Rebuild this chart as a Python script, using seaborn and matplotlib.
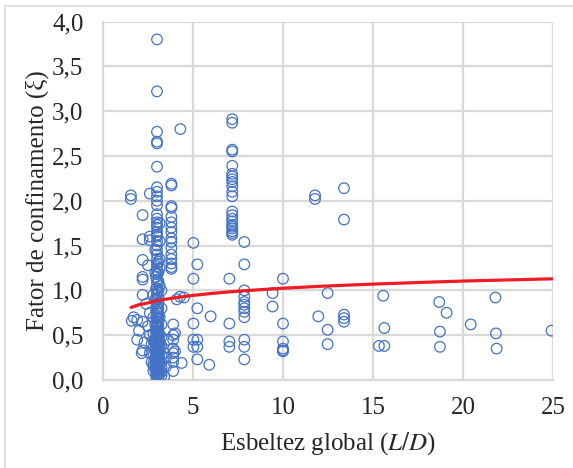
import matplotlib
matplotlib.use("Agg")
import matplotlib.pyplot as plt
import seaborn as sns
import pandas as pd
from matplotlib.ticker import MultipleLocator, FuncFormatter
from matplotlib.lines import Line2D

# ---- Data ----
left_x = [1.55, 1.55, 1.9, 2.2, 1.9, 2.2, 2.15, 2.0, 2.3, 1.6, 1.7,
          2.2, 2.2, 2.2, 2.2, 2.2, 2.2, 2.6, 2.6, 2.6, 2.5, 2.4,
          2.6, 2.5, 2.6, 2.7, 2.6, 2.7, 2.8]
left_y = [2.06, 2.02, 0.67, 0.65, 0.45, 0.33, 0.30, 0.55, 0.42, 0.66, 0.70,
          1.84, 1.57, 1.34, 1.15, 1.12, 0.95, 2.08, 1.60, 1.56, 1.28, 0.85,
          0.75, 0.60, 0.50, 0.40, 0.30, 0.20, 0.15]

col3_x = [3.0] * 60
col3_y = [3.80, 3.22, 2.77, 2.66, 2.64, 2.38, 2.15, 2.10, 2.05, 2.00,
          1.95, 1.85, 1.80, 1.76, 1.73, 1.70, 1.65, 1.62, 1.60, 1.55,
          1.50, 1.45, 1.40, 1.35, 1.30, 1.27, 1.22, 1.18, 1.12, 1.08,
          1.02, 0.98, 0.95, 0.90, 0.85, 0.80, 0.76, 0.72, 0.68, 0.65,
          0.61, 0.58, 0.55, 0.52, 0.49, 0.46, 0.43, 0.40, 0.37, 0.34,
          0.31, 0.28, 0.25, 0.22, 0.19, 0.16, 0.13, 0.10, 0.07, 0.05]
col31_x = [3.15] * 13 + [2.9] * 8
col31_y = [1.75, 1.55, 1.35, 1.25, 1.05, 0.70, 0.50, 0.42, 0.38, 0.30, 0.20, 0.12, 0.08,
           1.45, 1.20, 0.90, 0.62, 0.45, 0.35, 0.25, 0.15]
col32_x = [3.08] * 24 + [2.95] * 16
col32_y = [1.32, 1.20, 1.10, 1.00, 0.92, 0.86, 0.80, 0.74, 0.69, 0.64, 0.59, 0.54,
           0.49, 0.44, 0.39, 0.35, 0.31, 0.27, 0.23, 0.19, 0.15, 0.11, 0.06, 0.03,
           1.15, 1.02, 0.88, 0.78, 0.70, 0.60, 0.53, 0.47, 0.40, 0.33, 0.28, 0.22,
           0.17, 0.12, 0.09, 0.04]
col33_x = [3.25] * 10 + [2.8] * 8
col33_y = [1.00, 0.80, 0.62, 0.48, 0.38, 0.28, 0.20, 0.14, 0.09, 0.05,
           0.95, 0.70, 0.52, 0.44, 0.36, 0.27, 0.18, 0.10]

mid_x = [3.4, 3.5, 3.4, 3.6, 3.5,
         3.8, 3.8, 3.8, 3.8, 3.8, 3.8, 3.8, 3.8, 3.8, 3.8, 3.8, 3.8, 3.8, 3.8, 3.8, 3.8,
         3.9, 3.9, 3.9, 3.9, 3.9, 3.9, 3.9, 3.9,
         4.3, 4.28, 4.5, 4.1, 4.0, 4.0, 4.37]
mid_y = [0.04, 0.15, 0.30, 0.45, 0.25,
         2.19, 2.17, 1.94, 1.92, 1.82, 1.76, 1.70, 1.65, 1.58, 1.54, 1.47, 1.40, 1.35, 1.30, 1.26, 1.24,
         0.62, 0.50, 0.45, 0.35, 0.30, 0.25, 0.20, 0.10,
         2.80, 0.93, 0.92, 0.90, 0.52, 0.32, 0.19]

x5_x = [5.02, 5.24, 5.02, 5.24, 5.02, 5.02, 5.24, 5.02, 5.24, 5.24, 5.98, 5.9]
x5_y = [1.53, 1.29, 1.13, 0.80, 0.63, 0.45, 0.45, 0.37, 0.37, 0.23, 0.71, 0.17]

x7_x = [7.18] * 22 + [7.02] * 4
x7_y = [2.91, 2.87, 2.57, 2.55, 2.39, 2.30, 2.27, 2.24, 2.21, 2.16, 2.10, 2.05,
        1.88, 1.84, 1.80, 1.77, 1.73, 1.69, 1.66, 1.62, 1.64, 1.71,
        1.13, 0.63, 0.43, 0.37]

x8_x = [7.85] * 12
x8_y = [1.54, 1.29, 1.00, 0.87, 0.84, 0.80, 0.76, 0.70, 0.45, 0.37, 0.23, 0.93]

far_x = [9.42, 9.42, 10.0, 10.0, 10.0, 10.0, 10.0, 10.0,
         11.78, 11.78, 11.96, 12.48, 12.48, 12.48,
         13.39, 13.39, 13.39, 13.39, 13.39,
         15.57, 15.63, 15.33, 15.63,
         18.68, 19.09, 18.72, 18.72, 20.43,
         21.80, 21.83, 21.87, 24.92]
far_y = [0.97, 0.82, 1.13, 0.63, 0.43, 0.35, 0.33, 0.32,
         2.06, 2.02, 0.71, 0.97, 0.56, 0.40,
         2.14, 1.79, 0.73, 0.69, 0.65,
         0.94, 0.58, 0.38, 0.38,
         0.87, 0.75, 0.54, 0.37, 0.62,
         0.92, 0.52, 0.35, 0.55]

# trend curve
curve_x = [1.56, 2.0, 2.5, 3.0, 4.0, 5.0, 6.0, 7.0, 8.0, 10.0, 12.0, 15.0, 18.0, 20.0, 25.0]
curve_y = [0.81, 0.84, 0.86, 0.885, 0.918, 0.944, 0.965, 0.983, 0.998, 1.024,
           1.045, 1.07, 1.091, 1.104, 1.129]

x_ticks = [0, 5, 10, 15, 20, 25]
y_ticks = [0.0, 0.5, 1.0, 1.5, 2.0, 2.5, 3.0, 3.5, 4.0]

xs = left_x + col3_x + col31_x + col32_x + col33_x + mid_x + x5_x + x7_x + x8_x + far_x
ys = left_y + col3_y + col31_y + col32_y + col33_y + mid_y + x5_y + x7_y + x8_y + far_y
df = pd.DataFrame({"x": xs, "y": ys})
dc = pd.DataFrame({"x": curve_x, "y": curve_y})

# ---- Plot ----
sns.set_style("white")
plt.rcParams["font.family"] = ["Liberation Serif", "DejaVu Serif"]
plt.rcParams["mathtext.fontset"] = "stix"

fig = plt.figure(figsize=(5.73, 4.68), dpi=100)
ax = fig.add_axes([103 / 573, 1 - 380 / 468, 450 / 573, (380 - 21.5) / 468])

grid_c = "#D9D9D9"
ax.set_axisbelow(True)
ax.grid(True, color=grid_c, linewidth=1.6)

sns.scatterplot(data=df, x="x", y="y", ax=ax, marker="o", s=58,
                facecolor="none", edgecolor="#4472C4", linewidth=0.9, zorder=3)
sns.lineplot(data=dc, x="x", y="y", ax=ax, color="#EE1C25", linewidth=2.3, zorder=4)

ax.set_xlim(0, 25)
ax.set_ylim(0, 4.0)
ax.set_xticks(x_ticks)
ax.set_yticks(y_ticks)
ax.xaxis.set_minor_locator(MultipleLocator(1))
ax.yaxis.set_minor_locator(MultipleLocator(0.1))
ax.yaxis.set_major_formatter(FuncFormatter(lambda v, p: f"{v:.1f}".replace(".", ",")))
ax.xaxis.set_major_formatter(FuncFormatter(lambda v, p: f"{int(round(v))}"))

for s in ["top", "right"]:
    ax.spines[s].set_visible(False)
for s in ["left", "bottom"]:
    ax.spines[s].set_color(grid_c)
    ax.spines[s].set_linewidth(1.6)

ax.tick_params(axis="both", which="both", direction="in", color="#BFBFBF")
ax.tick_params(axis="both", which="major", length=0, labelsize=18, pad=12)
ax.tick_params(axis="both", which="minor", length=5, width=1)
ax.tick_params(axis="y", which="major", pad=14)

ax.set_xlabel("Esbeltez global ($\\mathit{L/D}$)", fontsize=18, labelpad=8)
ax.set_ylabel("Fator de confinamento (ξ)", fontsize=18, labelpad=2)

# frame lines of the chart area
fig.add_artist(Line2D([0.009, 1.0], [1 - 6 / 468, 1 - 6 / 468], color="#D9D9D9", lw=1.2,
                      transform=fig.transFigure))
fig.add_artist(Line2D([0.009, 0.009], [0.0, 1 - 6 / 468], color="#D9D9D9", lw=1.2,
                      transform=fig.transFigure))

fig.savefig("out.png", dpi=100)
